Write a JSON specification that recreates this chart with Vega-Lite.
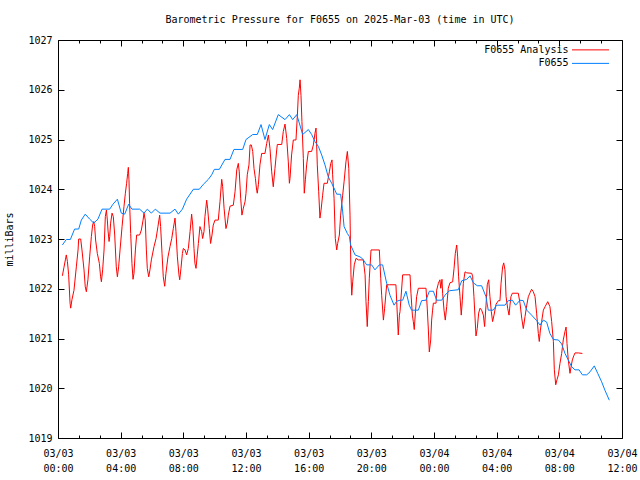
{
"$schema": "https://vega.github.io/schema/vega-lite/v6.json",
"width": 564, "height": 398,
"autosize": {"type": "none"},
"padding": {"left": 58, "top": 40, "right": 18, "bottom": 42},
"background": "white",
"config": {"font": "DejaVu Sans Mono", "view": {"stroke": "#000", "strokeWidth": 1}},
"title": {"text": "Barometric Pressure for F0655 on 2025-Mar-03 (time in UTC)", "font": "DejaVu Sans Mono", "fontSize": 10, "fontWeight": "normal", "color": "#000", "anchor": "middle", "offset": 10},
"datasets": {
"a": [
[0.28,1022.26],[0.38,1022.43],[0.47,1022.58],[0.53,1022.68],[0.6,1022.55],[0.68,1022.28],[0.77,1021.71],[0.81,1021.61],[0.89,1021.78],[1.02,1021.97],[1.17,1022.44],[1.28,1022.78],[1.32,1023.0],[1.45,1023.0],[1.53,1022.78],[1.66,1022.38],[1.74,1022.04],[1.81,1021.94],[1.91,1022.18],[2.02,1022.64],[2.13,1023.05],[2.21,1023.28],[2.28,1023.35],[2.34,1023.25],[2.4,1022.98],[2.51,1022.71],[2.64,1022.51],[2.72,1022.24],[2.77,1022.14],[2.85,1022.38],[2.94,1022.78],[3.02,1023.45],[3.09,1023.58],[3.15,1023.38],[3.19,1023.18],[3.26,1022.95],[3.3,1023.05],[3.36,1023.32],[3.45,1023.52],[3.53,1023.45],[3.62,1023.08],[3.72,1022.44],[3.79,1022.24],[3.87,1022.44],[3.96,1022.78],[4.09,1023.25],[4.21,1023.65],[4.3,1023.92],[4.38,1024.12],[4.45,1024.32],[4.49,1024.44],[4.53,1024.19],[4.57,1023.72],[4.64,1023.11],[4.72,1022.51],[4.79,1022.19],[4.85,1022.31],[4.94,1022.78],[5.02,1023.08],[5.21,1023.08],[5.32,1023.18],[5.43,1023.38],[5.49,1023.52],[5.57,1023.38],[5.64,1022.78],[5.7,1022.41],[5.79,1022.24],[5.87,1022.38],[5.96,1022.58],[6.13,1022.85],[6.26,1023.01],[6.38,1023.25],[6.49,1023.48],[6.55,1023.25],[6.64,1022.71],[6.72,1022.24],[6.81,1022.05],[6.89,1022.31],[7.02,1022.64],[7.15,1022.85],[7.26,1023.01],[7.36,1023.21],[7.47,1023.42],[7.53,1023.15],[7.62,1022.64],[7.72,1022.28],[7.77,1022.18],[7.85,1022.41],[7.94,1022.71],[8.0,1022.81],[8.11,1022.78],[8.21,1022.68],[8.32,1022.81],[8.43,1023.15],[8.53,1023.5],[8.6,1023.28],[8.68,1022.81],[8.74,1022.51],[8.81,1022.41],[8.89,1022.68],[8.96,1022.91],[9.06,1023.25],[9.17,1023.15],[9.23,1023.01],[9.32,1023.15],[9.38,1023.45],[9.49,1023.78],[9.55,1023.62],[9.66,1023.21],[9.74,1022.91],[9.83,1023.08],[9.91,1023.28],[10.02,1023.38],[10.23,1023.38],[10.34,1023.75],[10.45,1024.2],[10.51,1024.05],[10.6,1023.62],[10.72,1023.21],[10.81,1023.32],[10.87,1023.48],[10.98,1023.66],[11.19,1023.68],[11.3,1023.95],[11.41,1024.39],[11.51,1024.52],[11.57,1024.35],[11.66,1023.82],[11.74,1023.48],[11.83,1023.62],[11.94,1023.75],[12.0,1023.92],[12.08,1024.29],[12.19,1024.49],[12.26,1024.89],[12.34,1024.89],[12.43,1024.76],[12.51,1024.42],[12.6,1024.22],[12.68,1023.98],[12.72,1023.92],[12.79,1024.09],[12.89,1024.49],[13.0,1024.72],[13.21,1024.72],[13.32,1024.92],[13.43,1025.09],[13.53,1024.82],[13.64,1024.35],[13.74,1024.05],[13.85,1024.42],[13.96,1024.79],[14.0,1024.9],[14.28,1024.9],[14.38,1025.16],[14.49,1025.31],[14.6,1025.02],[14.7,1024.55],[14.77,1024.12],[14.81,1024.22],[14.91,1024.69],[15.02,1024.99],[15.19,1024.99],[15.28,1025.49],[15.34,1025.89],[15.4,1026.03],[15.45,1026.2],[15.51,1025.89],[15.57,1025.36],[15.66,1024.62],[15.72,1023.92],[15.79,1024.19],[15.87,1024.49],[15.98,1024.76],[16.19,1024.76],[16.3,1024.89],[16.4,1025.12],[16.47,1025.23],[16.51,1024.89],[16.55,1024.49],[16.64,1023.95],[16.72,1023.42],[16.79,1023.58],[16.89,1023.88],[16.98,1024.12],[17.19,1024.12],[17.32,1024.35],[17.41,1024.52],[17.49,1024.59],[17.53,1024.29],[17.62,1023.82],[17.7,1023.01],[17.79,1022.78],[17.85,1022.91],[17.96,1023.08],[18.04,1023.48],[18.17,1023.88],[18.26,1024.15],[18.38,1024.55],[18.47,1024.76],[18.56,1024.42],[18.64,1023.48],[18.7,1022.28],[18.75,1021.87],[18.81,1022.14],[18.91,1022.48],[19.02,1022.61],[19.17,1022.58],[19.49,1022.58],[19.6,1022.28],[19.66,1021.74],[19.74,1021.24],[19.81,1021.74],[19.87,1022.21],[19.98,1022.78],[20.51,1022.78],[20.6,1022.21],[20.66,1021.87],[20.77,1021.37],[20.85,1021.61],[20.98,1022.08],[21.15,1022.08],[21.57,1022.08],[21.62,1021.74],[21.72,1021.07],[21.79,1021.47],[21.83,1021.54],[22.0,1022.28],[22.47,1022.28],[22.53,1021.91],[22.62,1021.47],[22.68,1021.34],[22.74,1021.18],[22.81,1021.51],[22.89,1021.84],[23.0,1022.01],[23.49,1022.01],[23.57,1021.61],[23.64,1021.17],[23.7,1020.73],[23.79,1020.97],[23.85,1021.37],[23.91,1021.57],[23.96,1021.71],[24.13,1021.71],[24.17,1021.97],[24.28,1022.11],[24.38,1022.18],[24.43,1022.01],[24.51,1022.19],[24.55,1021.91],[24.64,1021.57],[24.72,1021.37],[24.81,1021.64],[24.91,1022.01],[25.02,1022.12],[25.19,1022.14],[25.28,1022.41],[25.36,1022.71],[25.45,1022.88],[25.51,1022.64],[25.57,1022.24],[25.66,1021.84],[25.74,1021.47],[25.81,1021.77],[25.87,1022.11],[25.98,1022.34],[26.09,1022.32],[26.41,1022.31],[26.47,1022.24],[26.55,1021.84],[26.62,1021.41],[26.68,1021.05],[26.76,1021.2],[26.85,1021.51],[26.94,1021.61],[27.04,1021.57],[27.15,1021.47],[27.23,1021.24],[27.32,1021.67],[27.4,1022.08],[27.49,1022.18],[27.57,1021.84],[27.66,1021.54],[27.74,1021.34],[27.83,1021.47],[27.96,1021.69],[28.11,1021.76],[28.21,1021.76],[28.28,1022.11],[28.38,1022.44],[28.45,1022.52],[28.53,1022.38],[28.6,1021.84],[28.7,1021.61],[28.79,1021.47],[28.85,1021.67],[28.91,1021.84],[29.0,1021.91],[29.38,1021.91],[29.49,1021.71],[29.6,1021.41],[29.7,1021.2],[29.81,1021.44],[29.92,1021.67],[30.02,1021.84],[30.13,1021.92],[30.23,1021.99],[30.34,1021.94],[30.45,1021.84],[30.55,1021.51],[30.66,1021.1],[30.72,1020.94],[30.79,1021.17],[30.87,1021.34],[30.98,1021.57],[31.09,1021.64],[31.26,1021.74],[31.4,1021.64],[31.51,1021.34],[31.62,1020.94],[31.68,1020.37],[31.77,1020.07],[31.85,1020.17],[31.94,1020.27],[32.04,1020.5],[32.15,1020.7],[32.25,1020.97],[32.36,1021.14],[32.43,1021.23],[32.49,1020.9],[32.57,1020.57],[32.68,1020.3],[32.75,1020.43],[32.83,1020.57],[32.92,1020.65],[33.0,1020.71],[33.21,1020.71],[33.47,1020.7]
],
"b": [
[0.28,1022.88],[0.53,1022.99],[0.79,1022.99],[1.06,1023.2],[1.32,1023.2],[1.49,1023.38],[1.74,1023.5],[2.02,1023.4],[2.28,1023.32],[2.55,1023.4],[2.81,1023.6],[3.3,1023.6],[3.51,1023.7],[3.79,1023.8],[4.04,1023.52],[4.26,1023.5],[4.51,1023.7],[4.72,1023.6],[5.21,1023.6],[5.49,1023.52],[5.7,1023.6],[5.96,1023.52],[6.21,1023.6],[6.51,1023.52],[7.15,1023.52],[7.47,1023.6],[7.68,1023.5],[7.94,1023.6],[8.21,1023.8],[8.64,1024.0],[9.02,1024.0],[9.28,1024.1],[9.6,1024.2],[9.81,1024.29],[9.98,1024.4],[10.3,1024.4],[10.66,1024.6],[10.98,1024.6],[11.23,1024.8],[11.79,1024.8],[12.0,1025.0],[12.43,1025.1],[12.72,1025.1],[12.96,1025.3],[13.21,1025.0],[13.49,1025.3],[13.7,1025.2],[14.06,1025.5],[14.49,1025.4],[14.77,1025.5],[14.98,1025.4],[15.24,1025.5],[15.62,1025.1],[15.98,1025.2],[16.19,1025.1],[16.4,1024.96],[16.62,1024.86],[16.83,1024.69],[17.04,1024.49],[17.25,1024.25],[17.47,1024.12],[17.68,1023.98],[17.79,1023.9],[18.04,1023.9],[18.15,1023.62],[18.26,1023.25],[18.47,1023.11],[18.6,1023.05],[18.68,1022.88],[18.96,1022.68],[19.28,1022.64],[19.45,1022.6],[19.7,1022.48],[20.02,1022.48],[20.23,1022.38],[20.51,1022.48],[20.72,1022.48],[20.98,1022.11],[21.19,1021.87],[21.45,1021.67],[21.62,1021.75],[21.83,1021.77],[22.0,1021.77],[22.21,1021.95],[22.42,1021.67],[22.57,1021.57],[23.0,1021.57],[23.21,1021.76],[23.49,1021.77],[23.7,1021.95],[23.96,1021.95],[24.17,1021.77],[24.49,1021.77],[24.7,1021.87],[24.98,1021.96],[25.55,1021.98],[25.77,1022.16],[26.09,1022.19],[26.3,1022.26],[26.51,1022.12],[26.76,1022.06],[27.04,1022.06],[27.32,1021.84],[27.46,1021.57],[27.78,1021.57],[28.0,1021.67],[28.53,1021.67],[28.74,1021.76],[29.0,1021.77],[29.21,1021.67],[29.49,1021.77],[29.7,1021.76],[29.92,1021.57],[30.23,1021.47],[30.55,1021.36],[30.77,1021.27],[30.98,1021.37],[31.19,1021.33],[31.4,1021.1],[31.62,1020.98],[31.94,1020.97],[32.15,1020.89],[32.36,1020.7],[32.57,1020.57],[32.79,1020.43],[33.0,1020.37],[33.26,1020.37],[33.47,1020.27],[33.75,1020.27],[33.96,1020.33],[34.23,1020.45],[34.45,1020.3],[34.7,1020.13],[34.91,1019.96],[35.19,1019.76]
]
},
"layer": [
{
"data": {"name": "a"},
"transform": [{"calculate": "datum[0]", "as": "h"}, {"calculate": "datum[1]", "as": "p"}, {"calculate": "'F0655 Analysis'", "as": "s"}],
"mark": {"type": "line", "strokeWidth": 1, "clip": true},
"encoding": {
"x": {"field": "h", "type": "quantitative", "scale": {"domain": [0, 36], "nice": false, "zero": false},
 "axis": {"orient": "bottom", "title": null, "values": [0,1.3333333,2.6666667,4,5.3333333,6.6666667,8,9.3333333,10.6666667,12,13.3333333,14.6666667,16,17.3333333,18.6666667,20,21.3333333,22.6666667,24,25.3333333,26.6666667,28,29.3333333,30.6666667,32,33.3333333,34.6666667,36],
  "domain": false, "grid": false, "tickColor": "#000", "tickWidth": 1,
  "tickSize": {"condition": {"test": "abs(datum.value - round(datum.value/4)*4) < 0.01", "value": -6}, "value": -3},
  "labelExpr": "abs(datum.value - round(datum.value/4)*4) < 0.01 ? [datum.value < 24 ? '03/03' : '03/04', (round(datum.value) % 24 < 10 ? '0' : '') + (round(datum.value) % 24) + ':00'] : ''",
  "labelFont": "DejaVu Sans Mono", "labelFontSize": 10, "labelColor": "#000", "labelBaseline": "top", "labelLineHeight": 15, "labelPadding": 16, "labelOverlap": false, "labelFlush": false}},
"y": {"field": "p", "type": "quantitative", "scale": {"domain": [1019, 1027], "nice": false, "zero": false},
 "axis": {"orient": "left", "title": "milliBars", "values": [1019,1020,1021,1022,1023,1024,1025,1026,1027], "domain": false, "grid": false, "tickColor": "#000", "tickSize": -6, "labelPadding": 12,
  "labelFont": "DejaVu Sans Mono", "labelFontSize": 10, "labelColor": "#000", "format": "d", "labelOverlap": false, "labelFlush": false,
  "titleFont": "DejaVu Sans Mono", "titleFontSize": 10, "titleFontWeight": "normal", "titleColor": "#000", "titlePadding": 13}},
"color": {"field": "s", "type": "nominal", "scale": {"domain": ["F0655 Analysis", "F0655"], "range": ["#ff0000", "#0080ff"]},
 "legend": {"title": null, "orient": "none", "legendX": 527, "legendY": 4.375, "padding": 0, "symbolType": "M-4,0L4,0", "symbolSize": 85.6, "symbolStrokeWidth": 1, "symbolFillColor": "transparent", "labelAlign": "right", "labelOffset": -27.5, "symbolOffset": 0, "labelFont": "DejaVu Sans Mono", "labelFontSize": 10, "labelColor": "#000", "rowPadding": 2.5, "labelLimit": 300}}
}
},
{
"data": {"name": "b"},
"transform": [{"calculate": "datum[0]", "as": "h"}, {"calculate": "datum[1]", "as": "p"}, {"calculate": "'F0655'", "as": "s"}],
"mark": {"type": "line", "strokeWidth": 1, "clip": true},
"encoding": {
"x": {"field": "h", "type": "quantitative", "axis": null},
"y": {"field": "p", "type": "quantitative", "axis": null},
"color": {"field": "s", "type": "nominal"}
}
},
{
"data": {"name": "b"},
"transform": [{"calculate": "datum[0]", "as": "h"}, {"calculate": "datum[1]", "as": "p"}],
"mark": {"type": "line", "opacity": 0},
"encoding": {
"x": {"field": "h", "type": "quantitative",
 "axis": {"orient": "top", "title": null, "labels": false, "values": [0,1.3333333,2.6666667,4,5.3333333,6.6666667,8,9.3333333,10.6666667,12,13.3333333,14.6666667,16,17.3333333,18.6666667,20,21.3333333,22.6666667,24,25.3333333,26.6666667,28,29.3333333,30.6666667,32,33.3333333,34.6666667,36],
  "domain": false, "grid": false, "tickColor": "#000",
  "tickSize": {"condition": {"test": "abs(datum.value - round(datum.value/4)*4) < 0.01", "value": -6}, "value": -3}}},
"y": {"field": "p", "type": "quantitative",
 "axis": {"orient": "right", "title": null, "labels": false, "values": [1019,1020,1021,1022,1023,1024,1025,1026,1027], "domain": false, "grid": false, "tickColor": "#000", "tickSize": -6}}
}
}
],
"resolve": {"axis": {"x": "independent", "y": "independent"}}
}
